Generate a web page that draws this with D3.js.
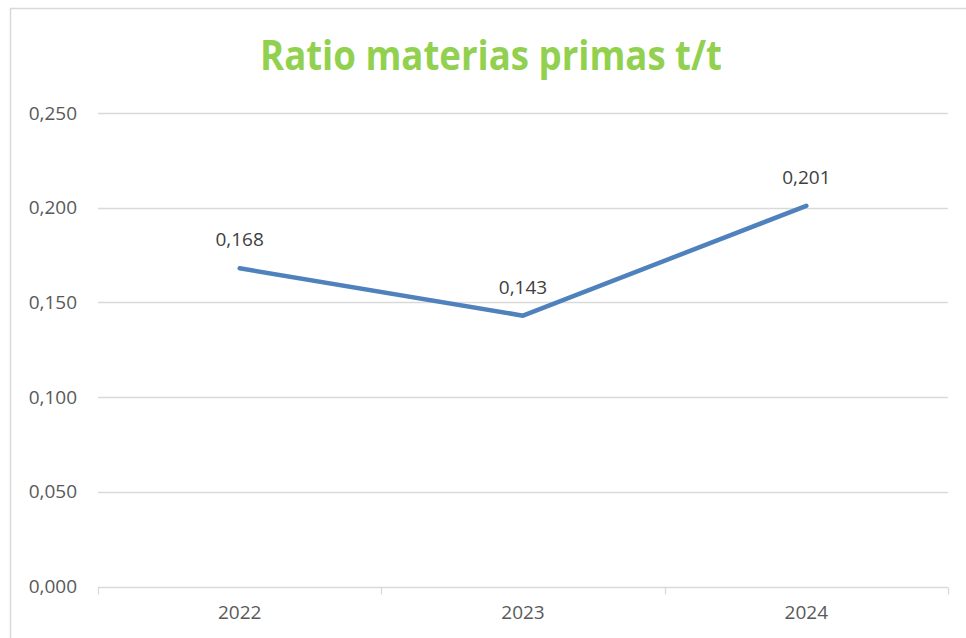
<!DOCTYPE html>
<html>
<head>
<meta charset="utf-8">
<script src="https://cdn.jsdelivr.net/npm/d3@7"></script>
<style>
  html, body { margin: 0; padding: 0; background: #ffffff; }
  svg { display: block; }
</style>
</head>
<body>
<svg id="chart" width="966" height="638"></svg>
<script>
const titleText = "Ratio materias primas t/t";
const categories = ["2022", "2023", "2024"];
const values = [0.168, 0.143, 0.201];
const yTicks = [0, 0.05, 0.1, 0.15, 0.2, 0.25];

const W = 966, H = 638;
const margin = { left: 98, right: 18, top: 113, bottom: 52 };
const svg = d3.select("#chart");
const font = "'Open Sans', 'Liberation Sans', sans-serif";

// outer chart border (cropped on right/bottom)
svg.append("rect")
  .attr("x", 10.5).attr("y", 8.5)
  .attr("width", W + 20).attr("height", H + 20)
  .attr("fill", "none").attr("stroke", "#d9d9d9").attr("stroke-width", 1.5);

const x = d3.scaleBand().domain(categories).range([margin.left, W - margin.right]).padding(0);
const y = d3.scaleLinear().domain([0, 0.25]).range([H - margin.bottom + 0.5, margin.top]);

const fmt = v => d3.format(".3f")(v).replace(".", ",");

// gridlines
svg.append("g")
  .selectAll("line").data(yTicks.filter(d => d > 0)).join("line")
  .attr("x1", margin.left).attr("x2", W - margin.right)
  .attr("y1", d => Math.round(y(d)) + 0.5).attr("y2", d => Math.round(y(d)) + 0.5)
  .attr("stroke", "#d9d9d9").attr("stroke-width", 1.3);

// y axis labels
const yAxis = d3.axisLeft(y).tickValues(yTicks).tickFormat(fmt).tickSize(0).tickPadding(21);
const gy = svg.append("g").attr("transform", `translate(${margin.left},0)`).call(yAxis);
gy.select(".domain").remove();
gy.selectAll("text").attr("fill", "#595959").attr("font-size", 19).attr("font-family", font);

// x axis
const xAxis = d3.axisBottom(x).tickSize(0).tickPadding(18);
const gx = svg.append("g").attr("transform", `translate(0,${Math.round(y(0)) + 0.5})`).call(xAxis);
gx.select(".domain").attr("stroke", "#d9d9d9").attr("stroke-width", 1.3).attr("d", `M${margin.left},0H${W - margin.right}`);
gx.selectAll("text").attr("fill", "#595959").attr("font-size", 19).attr("font-family", font);
// category boundary tick marks
const bounds = categories.map(c => x(c)).concat([x(categories[categories.length - 1]) + x.bandwidth()]);
gx.append("g").selectAll("line").data(bounds).join("line")
  .attr("x1", d => Math.round(d) + 0.5).attr("x2", d => Math.round(d) + 0.5)
  .attr("y1", 0).attr("y2", 7)
  .attr("stroke", "#d9d9d9").attr("stroke-width", 1.3);

// line
const line = d3.line().x((d, i) => x(categories[i]) + x.bandwidth() / 2).y(d => y(d));
svg.append("path").datum(values)
  .attr("d", line)
  .attr("fill", "none").attr("stroke", "#4f81bd").attr("stroke-width", 4.5)
  .attr("stroke-linecap", "round").attr("stroke-linejoin", "round");

// data labels
svg.append("g").selectAll("text").data(values).join("text")
  .attr("x", (d, i) => x(categories[i]) + x.bandwidth() / 2)
  .attr("y", d => y(d) - 22)
  .attr("text-anchor", "middle")
  .attr("fill", "#404040").attr("font-size", 19).attr("font-family", font)
  .text(d => fmt(d));

// title
svg.append("text")
  .attr("x", 491).attr("y", 70)
  .attr("text-anchor", "middle")
  .attr("fill", "#92d050").attr("font-size", 41).attr("font-weight", "bold")
  .attr("font-family", font)
  .attr("textLength", 462).attr("lengthAdjust", "spacingAndGlyphs")
  .text(titleText);
</script>
</body>
</html>
